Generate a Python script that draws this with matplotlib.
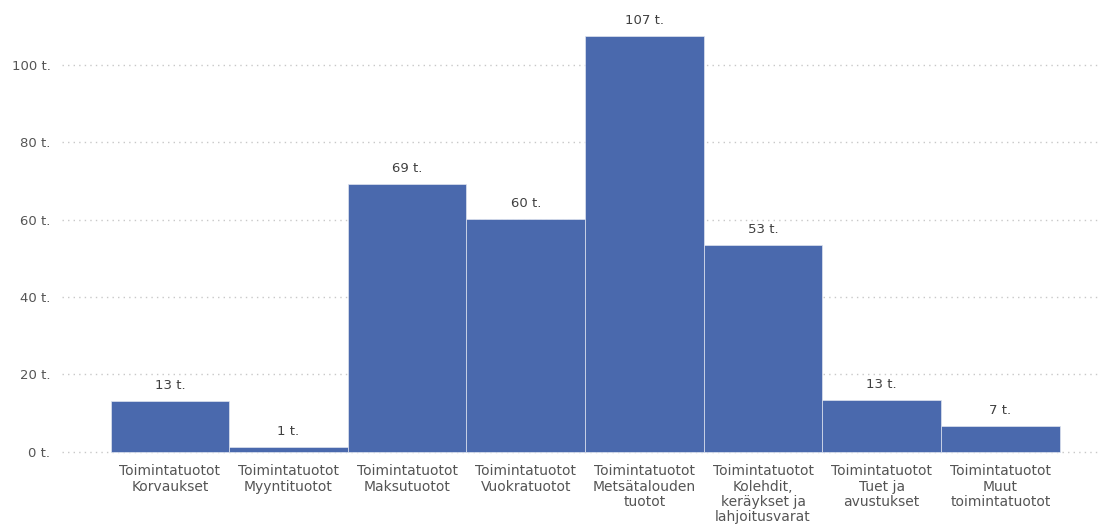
import matplotlib.pyplot as plt
import numpy as np

categories = ['Toimintatuotot\nKorvaukset', 'Toimintatuotot\nMyyntituotot',
              'Toimintatuotot\nMaksutuotot', 'Toimintatuotot\nVuokratuotot',
              'Toimintatuotot\nMetsätalouden\ntuotot',
              'Toimintatuotot\nKolehdit,\nkeräykset ja\nlahjoitusvarat',
              'Toimintatuotot\nTuet ja\navustukset', 'Toimintatuotot\nMuut\ntoimintatuotot']
values = [13.2, 1.2, 69.3, 60.2, 107.4, 53.4, 13.4, 6.6]
yticks = [0, 20, 40, 60, 80, 100]

plt.rcParams['font.family'] = ['DejaVu Sans']

fig = plt.figure(figsize=(11, 5.3), dpi=100)
ax = fig.add_axes([0.056, 0.142, 0.944, 0.858])

x = np.arange(len(values))
ax.bar(x, values, width=1.0, color='#4a69ad', edgecolor='#dfe4f0', linewidth=0.5, zorder=2)

for xi, v in zip(x, values):
    ax.text(xi, v + 2.3, f'{round(v)} t.', ha='center', va='bottom', fontsize=9.5, color='#404040')

ax.set_xlim(-0.913, 7.84)
ax.set_ylim(-0.8, 116.8)
ax.set_yticks(yticks)
ax.set_yticklabels([f'{t} t.' for t in yticks])
ax.yaxis.grid(True, linestyle=(0, (1, 3)), color='#c8c8c8', linewidth=1, zorder=0)
ax.set_xticks(x)
ax.set_xticklabels(categories, fontsize=10, color='#555555', linespacing=1.1, va='top')
ax.tick_params(axis='y', length=0, labelsize=9.5, labelcolor='#555555', pad=8)
ax.tick_params(axis='x', length=0, pad=7)
for s in ax.spines.values():
    s.set_visible(False)

plt.savefig('out.png', dpi=100)
